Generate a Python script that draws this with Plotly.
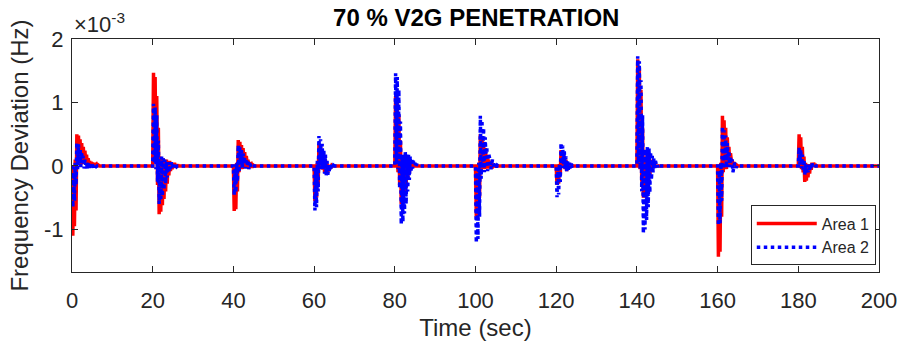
import plotly.graph_objects as go

# Frequency deviation (x10^-3 Hz) after each 20 s load step, sampled every 0.2 s
SAMPLE_STEP = 0.2
STEP_TIMES = [0, 20, 40, 60, 80, 100, 120, 140, 160, 180]
END_TIME = 200

# Area 1 responses
A1_000 = [0, -1.10, -0.05, -0.95, 0.10, -0.70, 0.50, 0.05, 0.48, 0.10, 0.42, 0.02, 0.36, 0.08, 0.30, 0.03,
          0.24, 0.05, 0.18, 0.00, 0.12, 0.04, 0.08, -0.02, 0.06, 0.03, 0.05, -0.02, 0.04, 0.02, 0.03, -0.01,
          0.02, 0.01, 0]
A1_020 = [0, 1.47, 0.10, 1.40, 0.05, 1.10, -0.30, 0.60, -0.76, 0.15, -0.72, 0.10, -0.62, 0.12, -0.52, 0.08,
          -0.40, 0.10, -0.28, 0.06, -0.15, 0.08, -0.08, 0.05, -0.05, 0.04, -0.03, 0.05, -0.03, 0.03, -0.02,
          0.02, 0]
A1_040 = [0, -0.71, -0.05, -0.68, 0.05, -0.40, 0.41, -0.10, 0.38, 0.05, 0.33, -0.05, 0.28, 0.02, 0.22, -0.02,
          0.16, 0.03, 0.10, -0.04, 0.06, 0.02, 0.03, -0.03, 0.02, 0.01, 0]
A1_060 = [0, -0.55, -0.05, -0.50, 0.05, -0.30, 0.35, -0.05, 0.30, 0.02, 0.24, -0.06, 0.18, -0.10, 0.10, -0.12,
          0.04, -0.10, 0.02, -0.06, 0.02, -0.03, 0.01, 0]
A1_080 = [0, 1.10, 0.05, 1.00, -0.10, 0.80, -0.30, 0.40, -0.60, 0.10, -0.55, 0.15, -0.45, 0.18, -0.35, 0.15,
          -0.22, 0.10, -0.12, 0.08, -0.05, 0.05, -0.02, 0.03, 0.01, 0]
A1_100 = [0, -0.80, -0.05, -0.75, 0.05, -0.50, 0.50, -0.10, 0.45, 0.05, 0.38, -0.05, 0.28, 0.10, 0.18, -0.04,
          0.10, 0.06, 0.05, -0.03, 0.03, 0.02, -0.01, 0]
A1_120 = [0, -0.30, -0.02, -0.28, 0.03, -0.15, 0.25, -0.02, 0.22, 0.02, 0.15, -0.05, 0.10, -0.08, 0.05, -0.05,
          0.02, -0.02, 0.01, 0]
A1_140 = [0, 1.68, 0.05, 1.55, -0.05, 1.20, -0.25, 0.60, -0.50, 0.10, -0.48, 0.15, -0.40, 0.18, -0.30, 0.15,
          -0.18, 0.10, -0.08, 0.05, -0.03, 0.03, 0.01, 0]
A1_160 = [0, -1.43, -0.10, -1.35, 0.05, -0.80, 0.79, -0.10, 0.72, 0.10, 0.60, -0.05, 0.45, 0.12, 0.30, 0.00,
          0.20, 0.08, 0.10, -0.03, 0.06, 0.03, 0.02, -0.02, 0.01, 0]
A1_180 = [0, 0.50, 0.02, 0.45, -0.05, 0.30, -0.10, 0.15, -0.25, 0.05, -0.23, 0.03, -0.18, 0.02, -0.12, 0.03,
          -0.06, 0.05, -0.02, 0.05, 0.01, 0.03, 0]

# Area 2 responses
A2_000 = [0, -0.65, -0.10, -0.55, 0.05, -0.30, 0.37, -0.05, 0.34, 0.05, 0.28, -0.02, 0.22, 0.04, 0.16, -0.04,
          0.10, 0.02, 0.06, -0.05, 0.02, 0.05, -0.03, 0.04, -0.02, 0.03, 0.00, -0.02, 0.02, 0.00, -0.01, 0]
A2_020 = [0, 0.98, 0.05, 0.92, -0.05, 0.80, -0.25, 0.40, -0.60, 0.10, -0.55, 0.15, -0.48, 0.12, -0.38, 0.10,
          -0.28, 0.08, -0.18, 0.06, -0.10, 0.05, -0.05, 0.06, -0.03, 0.04, 0.05, -0.02, 0.03, 0.02, -0.01, 0]
A2_040 = [0, -0.46, -0.05, -0.42, 0.05, -0.25, 0.33, -0.10, 0.30, 0.02, 0.25, -0.05, 0.20, 0.03, 0.14, -0.04,
          0.09, 0.02, 0.05, -0.05, 0.03, 0.02, -0.02, 0.01, 0]
A2_060 = [0, -0.70, -0.05, -0.65, 0.08, -0.40, 0.47, -0.05, 0.42, 0.05, 0.35, -0.05, 0.26, -0.12, 0.18, -0.15,
          0.08, -0.14, 0.02, -0.10, 0.03, -0.06, 0.02, -0.02, 0.01, 0]
A2_080 = [0, 1.46, 0.05, 1.40, -0.05, 1.20, -0.35, 0.70, -0.92, 0.15, -0.88, 0.20, -0.75, 0.22, -0.60, 0.20,
          -0.40, 0.18, -0.22, 0.15, -0.10, 0.12, -0.04, 0.08, 0.02, 0.05, -0.02, 0.03, 0.01, 0]
A2_100 = [0, -1.21, -0.10, -1.15, 0.05, -0.80, 0.79, -0.20, 0.72, 0.05, 0.60, -0.10, 0.45, 0.12, 0.30, -0.08,
          0.20, 0.15, 0.10, -0.05, 0.08, 0.10, 0.02, -0.04, 0.04, 0.02, -0.02, 0.01, 0]
A2_120 = [0, -0.49, -0.03, -0.45, 0.03, -0.25, 0.36, -0.03, 0.32, 0.03, 0.24, -0.05, 0.15, -0.08, 0.08, -0.06,
          0.05, -0.04, 0.03, -0.02, 0.01, 0]
A2_140 = [0, 1.73, 0.05, 1.65, -0.05, 1.35, -0.40, 0.80, -1.06, 0.20, -1.00, 0.28, -0.85, 0.30, -0.65, 0.28,
          -0.42, 0.22, -0.22, 0.16, -0.10, 0.12, -0.04, 0.08, 0.02, 0.04, -0.02, 0.02, 0]
A2_160 = [0, -0.94, -0.08, -0.90, 0.05, -0.55, 0.62, -0.05, 0.56, 0.08, 0.48, -0.03, 0.36, 0.12, 0.24, -0.02,
          0.15, 0.08, 0.08, -0.10, 0.04, 0.05, 0.02, -0.03, 0.01, 0]
A2_180 = [0, 0.29, 0.02, 0.26, -0.03, 0.18, -0.06, 0.10, -0.14, 0.03, -0.12, 0.02, -0.10, 0.02, -0.06, 0.03,
          -0.03, 0.04, 0.00, 0.03, 0.01, 0]

AREA1 = [A1_000, A1_020, A1_040, A1_060, A1_080, A1_100, A1_120, A1_140, A1_160, A1_180]
AREA2 = [A2_000, A2_020, A2_040, A2_060, A2_080, A2_100, A2_120, A2_140, A2_160, A2_180]

X_TICKS = [0, 20, 40, 60, 80, 100, 120, 140, 160, 180, 200]
Y_TICKS = [-1, 0, 1, 2]
Y_TICK_TEXT = ["-1", "0", "1", "2"]


def assemble(bursts):
    """Join the per-step responses into one time series, flat at zero between steps."""
    t, y = [], []
    for t0, seg in zip(STEP_TIMES, bursts):
        for i, v in enumerate(seg):
            t.append(round(t0 + i * SAMPLE_STEP, 3))
            y.append(v)
    t.append(END_TIME)
    y.append(0)
    return t, y


t1, y1 = assemble(AREA1)
t2, y2 = assemble(AREA2)

FONT = "Liberation Sans, Arial, Helvetica, sans-serif"
INK = "#262626"

fig = go.Figure()
fig.add_trace(go.Scatter(x=t1, y=y1, mode="lines", name="Area 1",
                         line=dict(color="#ff0000", width=3.5)))
fig.add_trace(go.Scatter(x=t2, y=y2, mode="lines", name="Area 2",
                         line=dict(color="#0000ff", width=3.5, dash="dot")))

axis_common = dict(showline=True, linecolor=INK, linewidth=1, mirror="ticks", ticks="inside",
                   ticklen=6, tickcolor=INK, showgrid=False, zeroline=False, automargin=False,
                   tickfont=dict(family=FONT, size=22, color=INK))

fig.update_layout(
    width=902, height=347,
    margin=dict(l=72, r=23, t=39, b=75),
    paper_bgcolor="white", plot_bgcolor="white",
    title=dict(text="<b>70 % V2G PENETRATION</b>", x=0.528, xanchor="center",
               y=0.948, yanchor="middle", yref="container",
               font=dict(family=FONT, size=24, color="#000000")),
    xaxis=dict(range=[0, 200], tickvals=X_TICKS, ticklabelstandoff=9,
               title=dict(text="Time (sec)", font=dict(family=FONT, size=24, color=INK), standoff=6),
               **axis_common),
    yaxis=dict(range=[-1.67, 2], tickvals=Y_TICKS, ticktext=Y_TICK_TEXT, ticklabelstandoff=3,
               title=dict(text="Frequency Deviation (Hz)", font=dict(family=FONT, size=24, color=INK),
                          standoff=8),
               **axis_common),
    legend=dict(x=0.996, y=0.028, xanchor="right", yanchor="bottom",
                bgcolor="white", bordercolor=INK, borderwidth=1,
                font=dict(family=FONT, size=16, color=INK), itemwidth=60,
                tracegroupgap=0),
    showlegend=True,
    annotations=[dict(text="\u00d710<sup>-3</sup>", xref="paper", yref="paper", x=0, y=1,
                      xanchor="left", yanchor="bottom", yshift=0, showarrow=False,
                      font=dict(family=FONT, size=22, color=INK))],
)

fig.write_html("out.html")
